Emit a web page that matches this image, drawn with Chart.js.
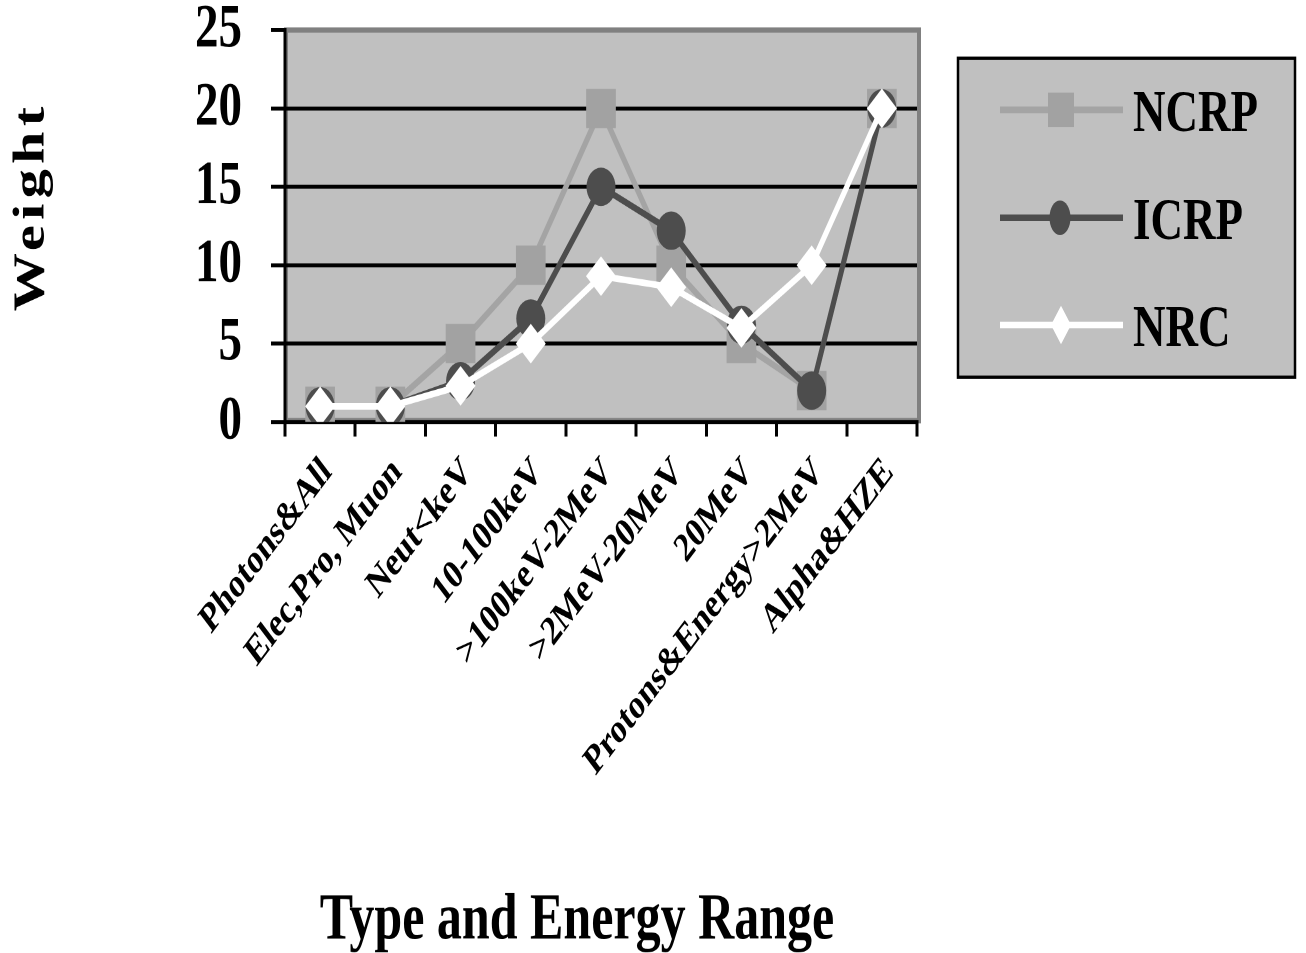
<!DOCTYPE html>
<html>
<head>
<meta charset="utf-8">
<script src="https://cdn.jsdelivr.net/npm/chart.js@4.4.1/dist/chart.umd.min.js"></script>
<style>
  html, body { margin: 0; padding: 0; background: #ffffff; overflow: hidden; }
  #wrap { position: absolute; left: 0; top: 0; width: 1306px; height: 720px;
          transform: scaleY(1.3236); transform-origin: 0 0; }
  #chart { position: absolute; left: 0; top: 0; }
  #legend { position: absolute; left: 0; top: 0; }
</style>
</head>
<body>
<div id="wrap">
  <canvas id="chart" width="1306" height="720"></canvas>
  <svg id="legend" width="1306" height="720" xmlns="http://www.w3.org/2000/svg">
    <rect x="958" y="44" width="337" height="241" fill="#c0c0c0" stroke="#000" stroke-width="2.5"/>
    <line x1="1000" y1="83" x2="1123" y2="83" stroke="#a4a4a4" stroke-width="5"/>
    <rect x="1048" y="70" width="26" height="26" fill="#a2a2a2"/>
    <text x="1133" y="99" font-family="Liberation Serif" font-weight="bold" font-size="45" fill="#000">NCRP</text>
    <line x1="1000" y1="164.5" x2="1123" y2="164.5" stroke="#4d4d4d" stroke-width="5"/>
    <ellipse cx="1060" cy="164.5" rx="10.5" ry="13" fill="#4d4d4d"/>
    <text x="1133" y="180.5" font-family="Liberation Serif" font-weight="bold" font-size="45" fill="#000">ICRP</text>
    <line x1="1000" y1="245.5" x2="1123" y2="245.5" stroke="#ffffff" stroke-width="5"/>
    <polygon points="1061,231 1071,245.5 1061,260 1051,245.5" fill="#ffffff"/>
    <text x="1133" y="261.5" font-family="Liberation Serif" font-weight="bold" font-size="45" fill="#000">NRC</text>
  </svg>
</div>
<script>
// ---- data ----
const categories = ['Photons&All', 'Elec,Pro, Muon', 'Neut<keV', '10-100keV', '>100keV-2MeV',
                    '>2MeV-20MeV', '20MeV', 'Protons&Energy>2MeV', 'Alpha&HZE'];
const ncrp = [1, 1, 5, 10, 20, 10, 5, 2, 20];
const icrp = [1, 1, 2.6, 6.6, 15, 12.2, 6.2, 2, 20];
const nrc  = [1, 1, 2.3, 5, 9.3, 8.6, 6, 10, 20];
const yTicks = [0, 5, 10, 15, 20, 25];
const yTitle = 'Weight';
const xTitle = 'Type and Energy Range';

const SERIF = '"Liberation Serif", "Times New Roman", serif';

const plotBg = {
  id: 'plotBg',
  beforeDraw(chart) {
    const { ctx, chartArea: a } = chart;
    ctx.save();
    ctx.fillStyle = '#c0c0c0';
    ctx.fillRect(a.left, a.top, a.right - a.left, a.bottom - a.top);
    ctx.strokeStyle = '#808080';
    ctx.lineWidth = 4;
    ctx.strokeRect(a.left + 1, a.top, a.right - a.left + 1, a.bottom - a.top - 1);
    ctx.restore();
  }
};

const titles = {
  id: 'titles',
  afterDraw(chart) {
    const ctx = chart.ctx;
    ctx.save();
    ctx.fillStyle = '#000';
    ctx.font = 'bold 44px ' + SERIF;
    ctx.letterSpacing = '4px';
    ctx.translate(32, 158);
    ctx.rotate(-Math.PI / 2);
    ctx.textAlign = 'center';
    ctx.textBaseline = 'middle';
    ctx.fillText(yTitle, 2, 0);
    ctx.restore();

    ctx.save();
    ctx.fillStyle = '#000';
    ctx.font = 'bold 50px ' + SERIF;
    ctx.textAlign = 'center';
    ctx.textBaseline = 'alphabetic';
    ctx.fillText(xTitle, 577, 709);
    ctx.restore();
  }
};

new Chart(document.getElementById('chart'), {
  type: 'line',
  data: {
    labels: categories,
    datasets: [
      { label: 'NCRP', data: ncrp, borderColor: '#a4a4a4', backgroundColor: '#a2a2a2',
        pointBackgroundColor: '#a2a2a2', pointStyle: 'rect', pointRadius: 21,
        pointBorderWidth: 0, borderWidth: 5, tension: 0, order: 3, clip: 0 },
      { label: 'ICRP', data: icrp, borderColor: '#4d4d4d', backgroundColor: '#4d4d4d',
        pointBackgroundColor: '#4d4d4d', pointStyle: 'circle', pointRadius: 14.5,
        pointBorderWidth: 0, borderWidth: 5, tension: 0, order: 2, clip: 0 },
      { label: 'NRC', data: nrc, borderColor: '#ffffff', backgroundColor: '#ffffff',
        pointBackgroundColor: '#ffffff', pointStyle: 'rectRot', pointRadius: 15,
        pointBorderWidth: 0, borderWidth: 5, tension: 0, order: 1, clip: 0 }
    ]
  },
  options: {
    responsive: false,
    animation: false,
    devicePixelRatio: 2,
    layout: { padding: { top: 22.7, right: 389, bottom: 0, left: 0 } },
    plugins: { legend: { display: false }, tooltip: { enabled: false } },
    elements: { point: { hoverRadius: 0 } },
    scales: {
      x: {
        offset: true,
        grid: { offset: true, drawOnChartArea: false, drawTicks: true, tickLength: 11,
                tickColor: '#000', tickWidth: 3, lineWidth: 3, color: '#000' },
        border: { display: true, color: '#000', width: 3 },
        ticks: { autoSkip: false, minRotation: 45, maxRotation: 45, padding: 9, labelOffset: 7,
                 color: '#000', font: { family: SERIF, size: 31, weight: 'bold' } },
        afterFit(s) { s.height = 401.2; s.paddingLeft = 0; s.paddingRight = 0; }
      },
      y: {
        min: 0, max: 25,
        afterBuildTicks(s) { s.ticks = yTicks.map(v => ({ value: v })); },
        grid: { color: c => (c.tick && c.tick.value === 25) ? 'rgba(0,0,0,0)' : '#000',
                lineWidth: 3, tickLength: 14, tickColor: '#000', tickWidth: 3 },
        border: { display: true, color: '#000', width: 3 },
        ticks: { autoSkip: false, padding: 29, color: '#000',
                 font: { family: SERIF, size: 47, weight: 'bold' } },
        afterFit(s) { s.width = 285; s.paddingTop = 0; s.paddingBottom = 0; }
      }
    }
  },
  plugins: [plotBg, titles]
});
</script>
</body>
</html>
